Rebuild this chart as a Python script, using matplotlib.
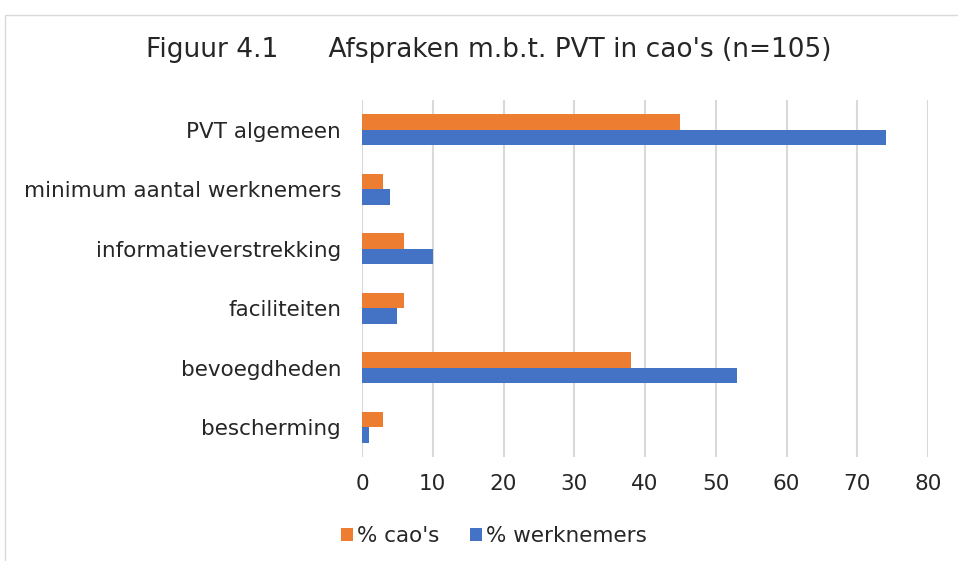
import numpy as np
import matplotlib.pyplot as plt
from matplotlib.patches import Rectangle

# Data
categories = ['PVT algemeen', 'minimum aantal werknemers', 'informatieverstrekking',
              'faciliteiten', 'bevoegdheden', 'bescherming']
pct_caos = [45, 3, 6, 6, 38, 3]
pct_werknemers = [74, 4, 10, 5, 53, 1]
xticks = [0, 10, 20, 30, 40, 50, 60, 70, 80]

orange = '#ED7D31'
blue = '#4472C4'

plt.rcParams['font.family'] = ['DejaVu Sans']

fig = plt.figure(figsize=(9.58, 5.61), dpi=100)
ax = fig.add_axes([362 / 958, 1 - 457 / 561, (928 - 362) / 958, (457 - 100) / 561])

y = np.arange(len(categories))[::-1]
h = 0.26
ax.barh(y + h / 2, pct_caos, height=h, color=orange, label="% cao's", zorder=3)
ax.barh(y - h / 2, pct_werknemers, height=h, color=blue, label='% werknemers', zorder=3)

ax.set_yticks(y)
ax.set_yticklabels(categories, fontsize=15.5, color='#262626')
ax.set_xticks(xticks)
ax.set_xticklabels([str(v) for v in xticks], fontsize=15.5, color='#262626')
ax.set_xlim(0, 80)
ax.set_ylim(-0.5, len(categories) - 0.5)
ax.tick_params(axis='y', length=0, pad=15)
ax.tick_params(axis='x', length=0, pad=12)
ax.grid(axis='x', color='#D9D9D9', linewidth=1.5, zorder=0)
for s in ax.spines.values():
    s.set_visible(False)

fig.text(489 / 958, 1 - 50 / 561, "Figuur 4.1      Afspraken m.b.t. PVT in cao's (n=105)",
         ha='center', va='center', fontsize=19, color='#262626')

leg = ax.legend(loc='center', bbox_to_anchor=(494 / 958, 1 - 536 / 561),
                bbox_transform=fig.transFigure, ncol=2, frameon=False,
                fontsize=15.5, handlelength=0.55, handleheight=0.55,
                handletextpad=0.2, columnspacing=1.4)
for t in leg.get_texts():
    t.set_color('#262626')

fig.patches.append(Rectangle((5 / 958, -0.1), 1.2, 1 - 15 / 561 + 0.1,
                             transform=fig.transFigure, fill=False,
                             edgecolor='#D9D9D9', linewidth=1))

fig.savefig('out.png', dpi=100)
